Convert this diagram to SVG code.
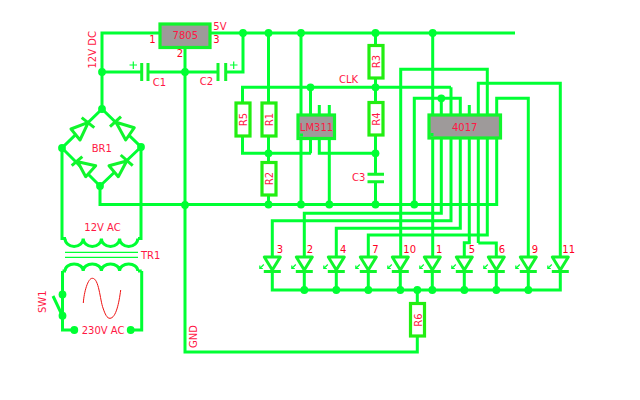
<svg xmlns="http://www.w3.org/2000/svg" width="640" height="400" viewBox="0 0 640 400">
<style>
.w{fill:none;stroke:#00ff33;stroke-width:3}
.t{fill:none;stroke:#00ff33;stroke-width:1.2}
.b{fill:#fff;stroke:#22ee11;stroke-width:3.200}
.g{fill:#9e9a9a;stroke:#11f52c;stroke-width:3.200}
.d{fill:none;stroke:#11f52c;stroke-width:3;stroke-linejoin:round}
.f{fill:#fff;stroke:#11f52c;stroke-width:3;stroke-linejoin:round}
.j{fill:#00ff33}
text{font-family:"DejaVu Sans",sans-serif;font-size:10px;fill:#ff1744}
.p{fill:#ff0022}
.m{text-anchor:middle}
</style>
<defs>
<g id="led"><path class="f" d="M-8 -14.500H8L0 -1.500Z"/><path class="d" d="M-8.500 0H8.500"/><path class="t" d="M-8.500 -7L-12.500 -3M-12.500 -6V-3H-9.500" stroke-width="1"/></g>
<circle id="dot" r="3.900" class="j"/>
</defs>
<rect width="640" height="400" fill="#fff"/>
<g id="connectors">
<path class="w" d="M102 109V33H159M210 33H515M243 33V72H226M102 72H141M148 72H218M185 48V352H417.300V336"/>
<path class="w" d="M102 109L62 148V240M102 109L141 147V240M62 148L100 186L141 147M100 186V204.500H496.700V139"/>
<path class="w" d="M62.500 238.500H66M138 238.500H141.700M62.500 271H66M138 271H141.700M62.500 271V316M62.500 316V330H74.300M130.700 330H141.700V271M53 296L62.500 316"/>
<path class="t" d="M65 252.300H138M65 257.300H138"/>
<path class="w" d="M65 238.500a9.100 8 0 0 0 18.200 0a9.100 8 0 0 0 18.200 0a9.100 8 0 0 0 18.200 0a9.100 8 0 0 0 18.200 0M65 271a9.100 7 0 0 1 18.200 0a9.100 7 0 0 1 18.200 0a9.100 7 0 0 1 18.200 0a9.100 7 0 0 1 18.200 0"/>
<path d="M83.300 303C84 292 88 278 92.300 278.300C99 278 100 300 103 308C105 314 107 318.500 110 318.300C116 318 119 303 120.700 290" fill="none" stroke="#ee1111" stroke-width="1"/>
<path class="w" d="M242.500 102V87.300H451M242.500 136V153.300H311M268.500 33V102M268.500 136V162M268.500 195V204.500M301 33V204.500M310.500 87.300V153.300M319.300 105V153.300H375.500M329.300 105V204.500M375.500 33V45M375.500 78V102M375.500 135V174M375.500 182V204.500"/>
<path class="w" d="M400.700 256V69.300H487.300V235H368.300V256M432.700 33V256M414.300 204.500V98.300H460.300V228.300H336.300V256M441.300 98.300V213.300H304.300V256M451 87.300V220.700H272.300V256M469.300 105V242.700H464.300V256M478.300 243V83.300H560.300V256M478.300 243H496.300V256M496.700 114V98.300H528.300V256"/>
<path class="w" d="M272.300 272V290H560.300V272M304.300 272V290M336.300 272V290M368.300 272V290M400.300 272V290M432.300 272V290M464.300 272V290M496.300 272V290M528.300 272V290M417.300 290V303"/>
<g id="junctions">
<use href="#dot" x="102" y="72"/><use href="#dot" x="102" y="109"/><use href="#dot" x="185" y="72"/><use href="#dot" x="185" y="205"/><use href="#dot" x="243" y="33"/><use href="#dot" x="62" y="148"/><use href="#dot" x="141" y="147"/><use href="#dot" x="100" y="186"/>
<use href="#dot" x="268.500" y="33"/><use href="#dot" x="301" y="33"/><use href="#dot" x="375.500" y="33"/><use href="#dot" x="432.700" y="33"/><use href="#dot" x="310.500" y="87.300"/><use href="#dot" x="375.500" y="87.300"/><use href="#dot" x="268.500" y="153.300"/><use href="#dot" x="375.500" y="153.300"/>
<use href="#dot" x="268.500" y="204.500"/><use href="#dot" x="301" y="204.500"/><use href="#dot" x="329.300" y="204.500"/><use href="#dot" x="375.500" y="204.500"/><use href="#dot" x="414.300" y="204.500"/><use href="#dot" x="441.300" y="98.300"/>
<use href="#dot" x="304.300" y="290"/><use href="#dot" x="336.300" y="290"/><use href="#dot" x="368.300" y="290"/><use href="#dot" x="400.300" y="290"/><use href="#dot" x="417.300" y="290"/><use href="#dot" x="432.300" y="290"/><use href="#dot" x="464.300" y="290"/><use href="#dot" x="496.300" y="290"/><use href="#dot" x="528.300" y="290"/>
<use href="#dot" x="62.500" y="294.500"/><use href="#dot" x="62.500" y="315.700"/><use href="#dot" x="74.300" y="330"/><use href="#dot" x="130.700" y="330"/>
</g>
</g>
<g id="U1"><rect class="g" x="160" y="24" width="50" height="23.500"/><text class="m" x="185.300" y="39">7805</text><text class="p" x="149.300" y="43">1</text><text class="p" x="176.700" y="57">2</text><text class="p" x="213.300" y="43">3</text></g>
<g id="C1"><path class="d" d="M141.700 63V81M148 63V81"/><path class="t" d="M129.500 65H137M133.300 61.500V69"/><text x="152.700" y="86">C1</text></g>
<g id="C2"><path class="d" d="M218 63V81M225.700 63V81"/><path class="t" d="M230 65H237.500M233.700 61.500V69"/><text x="199.700" y="85">C2</text></g>
<g id="BR1">
<path class="f" d="M88.300 122.300L71 129L80 140Z"/><path class="d" d="M81.700 117.700L94.300 127.700"/>
<path class="f" d="M116 122.300L134.300 127.700L125.700 140Z"/><path class="d" d="M110 126.700L121 116.700"/>
<path class="f" d="M77.700 161.700L95.700 165.700L85.700 176.700Z"/><path class="d" d="M71.700 165.700L82.300 156.700"/>
<path class="f" d="M126.700 161L109 165.700L118.300 176.700Z"/><path class="d" d="M120.700 155L132.700 165.700"/>
<text x="91.700" y="152">BR1</text>
</g>
<g id="R5"><rect class="b" x="236" y="103" width="14" height="33"/><text class="m" transform="translate(247 119.500) rotate(-90)">R5</text></g>
<g id="R1"><rect class="b" x="262" y="103" width="14" height="33"/><text class="m" transform="translate(273 119.500) rotate(-90)">R1</text></g>
<g id="R2"><rect class="b" x="262" y="162.500" width="14" height="32.500"/><text class="m" transform="translate(273 178.500) rotate(-90)">R2</text></g>
<g id="R3"><rect class="b" x="369" y="45.500" width="14" height="32.500"/><text class="m" transform="translate(380 61.500) rotate(-90)">R3</text></g>
<g id="R4"><rect class="b" x="369" y="102.500" width="14" height="32.500"/><text class="m" transform="translate(380 119) rotate(-90)">R4</text></g>
<g id="R6"><rect class="b" x="410.500" y="303.500" width="14" height="32.500"/><text class="m" transform="translate(421.500 320) rotate(-90)">R6</text></g>
<g id="C3"><path class="d" d="M367.500 174.300H384M367.500 181.700H384"/><text x="352" y="181">C3</text></g>
<g id="LM311"><rect class="g" x="298" y="115" width="36.500" height="23.500"/><rect x="300" y="133.500" width="3" height="3" fill="#00ff33"/><text class="m" x="316.500" y="130.700">LM311</text></g>
<g id="IC4017"><rect class="g" x="429" y="115" width="71.500" height="23"/><rect x="430.500" y="133" width="3" height="3" fill="#00ff33"/><text class="m" x="464.700" y="131.300">4017</text></g>
<g id="leds">
<use href="#led" x="272.300" y="271.500"/><use href="#led" x="304.300" y="271.500"/><use href="#led" x="336.300" y="271.500"/><use href="#led" x="368.300" y="271.500"/><use href="#led" x="400.300" y="271.500"/><use href="#led" x="432.300" y="271.500"/><use href="#led" x="464.300" y="271.500"/><use href="#led" x="496.300" y="271.500"/><use href="#led" x="528.300" y="271.500"/><use href="#led" x="560.300" y="271.500"/>
<text class="p" x="276.700" y="253">3</text><text class="p" x="306.700" y="253">2</text><text class="p" x="340" y="253">4</text><text class="p" x="372.300" y="253">7</text><text class="p" x="403.300" y="253">10</text><text class="p" x="436" y="253">1</text><text class="p" x="468.700" y="253">5</text><text class="p" x="498.700" y="253">6</text><text class="p" x="531.700" y="253">9</text><text class="p" x="562.300" y="253">11</text>
</g>
<g id="labels">
<text transform="translate(95.700 68.500) rotate(-90)">12V DC</text>
<text x="213.300" y="30">5V</text>
<text x="339" y="83">CLK</text>
<text x="84.300" y="231">12V AC</text>
<text x="141" y="259">TR1</text>
<text x="81.700" y="333.500">230V AC</text>
<text transform="translate(45.700 313) rotate(-90)">SW1</text>
<text transform="translate(196.700 348) rotate(-90)">GND</text>
</g>
</svg>
